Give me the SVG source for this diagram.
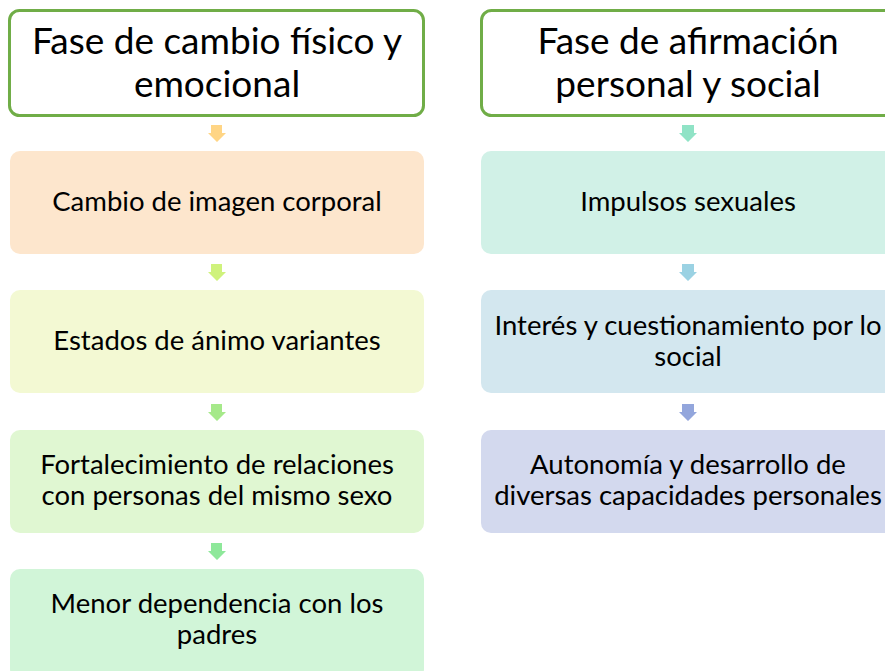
<svg xmlns="http://www.w3.org/2000/svg" width="885" height="671" viewBox="0 0 885 671">
<style>
.hdr{fill:#fff;stroke:#70AD47;stroke-width:3}
.ht{font-family:Lato,"Open Sans",sans-serif;font-size:37px;fill:#000;text-anchor:middle}
.bt{font-family:Lato,"Open Sans",sans-serif;font-size:27.5px;fill:#000;text-anchor:middle}
</style>
<rect width="885" height="671" fill="#fff"/>
<g id="h1"><rect class="hdr" x="9.5" y="10.5" width="414" height="105" rx="10"/>
<text class="ht" x="217" y="54">Fase de cambio físico y</text>
<text class="ht" x="217" y="97">emocional</text></g>
<g id="h2"><rect class="hdr" x="481.5" y="10.5" width="430" height="105" rx="10"/>
<text class="ht" x="688" y="54">Fase de afirmación</text>
<text class="ht" x="688" y="97">personal y social</text></g>
<g id="l1"><rect x="10" y="151" width="414" height="103" rx="10" fill="#FDE6CD"/>
<text class="bt" x="217" y="211">Cambio de imagen corporal</text></g>
<g id="l2"><rect x="10" y="290" width="414" height="103" rx="10" fill="#F3F9D3"/>
<text class="bt" x="217" y="350">Estados de ánimo variantes</text></g>
<g id="l3"><rect x="10" y="430" width="414" height="103" rx="10" fill="#E0F7D2"/>
<text class="bt" x="217" y="474">Fortalecimiento de relaciones</text>
<text class="bt" x="217" y="505">con personas del mismo sexo</text></g>
<g id="l4"><rect x="10" y="569" width="414" height="110" rx="10" fill="#D1F5D8"/>
<text class="bt" x="217" y="613">Menor dependencia con los</text>
<text class="bt" x="217" y="644">padres</text></g>
<g id="r1"><rect x="481" y="151" width="430" height="103" rx="10" fill="#D1F1E7"/>
<text class="bt" x="688" y="211">Impulsos sexuales</text></g>
<g id="r2"><rect x="481" y="290" width="430" height="103" rx="10" fill="#D3E7EF"/>
<text class="bt" x="688" y="335">Interés y cuestionamiento por lo</text>
<text class="bt" x="688" y="366">social</text></g>
<g id="r3"><rect x="481" y="430" width="430" height="103" rx="10" fill="#D3D9EE"/>
<text class="bt" x="688" y="474">Autonomía y desarrollo de</text>
<text class="bt" x="688" y="505">diversas capacidades personales</text></g>
<g id="connectors">
<path d="M211 125h11v8h4l-9 9l-9-9h3z" fill="#FFD585"/>
<path d="M211 264h11v8h4l-9 9l-9-9h3z" fill="#CFF27C"/>
<path d="M211 404h11v8h4l-9 9l-9-9h3z" fill="#A6E98A"/>
<path d="M211 543h11v8h4l-9 9l-9-9h3z" fill="#8EE89A"/>
<path d="M682 125h12v8h3l-9 9l-9-9h3z" fill="#90E3C6"/>
<path d="M682 264h12v8h3l-9 9l-9-9h3z" fill="#9BD2E3"/>
<path d="M682 404h12v8h3l-9 9l-9-9h3z" fill="#93A6DC"/>
</g>
</svg>
